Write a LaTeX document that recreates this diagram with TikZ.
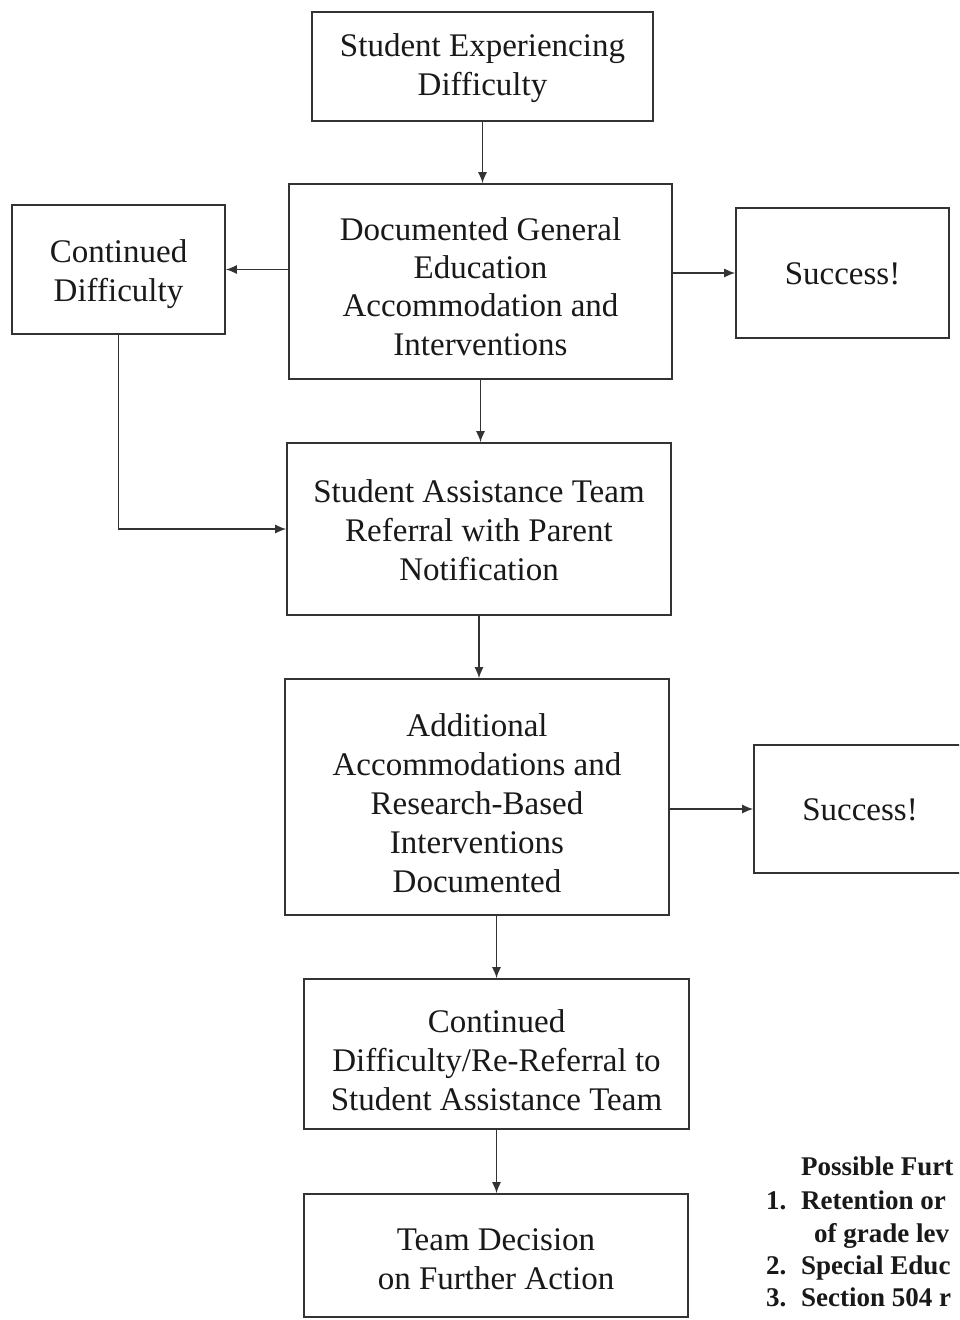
\documentclass[tikz,border=0pt]{standalone}
\usepackage{fontspec}
\setmainfont{Liberation Serif}
\usetikzlibrary{arrows.meta}
\begin{document}
\begin{tikzpicture}[x=1pt,y=-1pt,
  box/.style={draw=black!80, line width=1.6pt, inner sep=0pt},
  txt/.style={align=center, inner sep=0pt, font=\fontsize{33}{39}\selectfont, text=black!90},
  arr/.style={draw=black!80, line width=1.5pt, -{Latex[length=11pt,width=9pt]}},
  note/.style={anchor=base west, inner sep=0pt, font=\fontsize{27}{32}\selectfont\bfseries, text=black!90}]
\useasboundingbox (0,0) rectangle (959,1320);
\clip (0,0) rectangle (959,1320);
\fill[white] (0,0) rectangle (959,1320);
\node[box, minimum width=341pt, minimum height=109pt] (b1) at (482.5,66.5) {};
\node[txt] (t1) at ([yshift=-2pt]b1.center) {Student Experiencing\\Difficulty};
\node[box, minimum width=383pt, minimum height=195pt] (b2) at (480.5,281.5) {};
\node[txt, font=\fontsize{33}{38.3}\selectfont] (t2) at ([yshift=-5pt]b2.center) {Documented General\\Education\\Accommodation and\\Interventions};
\node[box, minimum width=213pt, minimum height=129pt] (cd) at (118.5,269.5) {};
\node[txt] (tcd) at ([yshift=-5pt]cd.center) {Continued\\Difficulty};
\node[box, minimum width=213pt, minimum height=130pt] (s1) at (842.5,273) {};
\node[txt] (ts1) at ([yshift=-1pt]s1.center) {Success!};
\node[box, minimum width=384pt, minimum height=172pt] (b3) at (479,529) {};
\node[txt] (t3) at ([yshift=-1pt]b3.center) {Student Assistance Team\\Referral with Parent\\Notification};
\node[box, minimum width=384pt, minimum height=236pt] (b4) at (477,797) {};
\node[txt] (t4) at ([yshift=-6pt]b4.center) {Additional\\Accommodations and\\Research-Based\\Interventions\\Documented};
\node[box, minimum width=212pt, minimum height=128pt] (s2) at (860,809) {};
\node[txt] (ts2) at ([yshift=-1pt]s2.center) {Success!};
\node[box, minimum width=385pt, minimum height=150pt] (b5) at (496.5,1054) {};
\node[txt] (t5) at ([yshift=-6pt]b5.center) {Continued\\Difficulty/Re-Referral to\\Student Assistance Team};
\node[box, minimum width=384pt, minimum height=123pt] (b6) at (496,1255.5) {};
\node[txt] (t6) at ([yshift=-4pt]b6.center) {Team Decision\\on Further Action};
\draw[arr] (b1.south) -- (b1.south |- b2.north);
\draw[arr] (b2.west |- cd.east) -- (cd.east);
\draw[arr] (b2.east |- s1.west) -- (s1.west);
\draw[arr] (b2.south) -- (b2.south |- b3.north);
\draw[arr] (cd.south) |- (b3.west);
\draw[arr] (b3.south) -- (b3.south |- b4.north);
\draw[arr] (b4.east |- s2.west) -- (s2.west);
\draw[arr] (b4.south -| b5.north) -- (b5.north);
\draw[arr] (b5.south) -- (b5.south |- b6.north);
\node[note] (n0) at (801,1175) {Possible Furt};
\node[note] (n1a) at (766,1209) {1.};
\node[note] (n1b) at (801,1209) {Retention or};
\node[note] (n1c) at (814,1242) {of grade lev};
\node[note] (n2a) at (766,1274) {2.};
\node[note] (n2b) at (801,1274) {Special Educ};
\node[note] (n3a) at (766,1306) {3.};
\node[note] (n3b) at (801,1306) {Section 504 r};
\end{tikzpicture}
\end{document}
